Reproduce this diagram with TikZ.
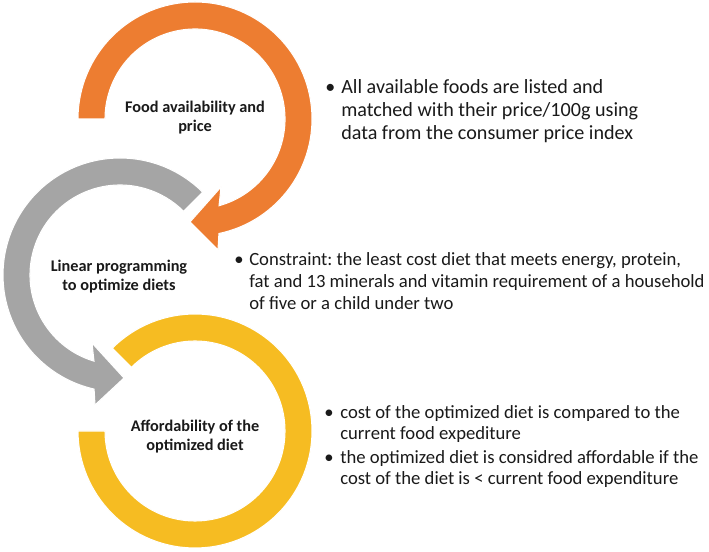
\documentclass[tikz,border=0pt]{standalone}
\usepackage{fontspec}
\setmainfont{Carlito}
\frenchspacing
\definecolor{ringorange}{HTML}{ED7D31}
\definecolor{ringgray}{HTML}{A5A5A5}
\definecolor{ringyellow}{HTML}{F6BC22}
\definecolor{txtcol}{HTML}{1A1A1A}
\begin{document}
\begin{tikzpicture}[x=0.75pt,y=0.75pt,
  ringfill/.style={draw=white,line width=0.8pt,line join=miter},
  lbl/.style={font=\bfseries\fontsize{12.2}{14.3}\selectfont,align=center,text=txtcol,inner sep=0pt},
  bul/.style={anchor=base west,inner sep=0pt,text=txtcol},
  txt/.style={anchor=base west,inner sep=0pt,text=txtcol}]
\useasboundingbox (0,0) rectangle (709,552);
\fill[white] (0,0) rectangle (709,552);

% gray ring
\begin{scope}[shift={(120,277)}]
\fill[ringgray,ringfill] (45:117) arc[start angle=45,end angle=257.2,radius=117]
  -- (-25,-130) -- (4,-103) -- (-28,-68) -- (253.2:90)
  arc[start angle=253.2,end angle=45,radius=90] -- cycle;
\end{scope}
% yellow ring
\begin{scope}[shift={(195,121)}]
\fill[ringyellow,ringfill] (135:117) arc[start angle=135,end angle=-180,radius=117]
  -- (180:90) arc[start angle=-180,end angle=135,radius=90] -- cycle;
\end{scope}
% orange ring
\begin{scope}[shift={(195,433)}]
\fill[ringorange,ringfill] (180:117) arc[start angle=180,end angle=-78.2,radius=117]
  -- (23,-131) -- (-5,-103) -- (26,-68) -- (-74.5:90)
  arc[start angle=-74.5,end angle=180,radius=90] -- cycle;
\end{scope}

\node[lbl] (food) at (195,434) {Food availability and\\price};
\node[lbl] (linear) at (119,275) {Linear programming\\to optimize diets};
\node[lbl] (afford) at (195,115) {Affordability of the\\optimized diet};

% bullet texts
\node[bul,font=\fontsize{15}{17.4}\selectfont] (b1) at (325,458.7) {•};
\node[txt] (t1) at (341,458.7) {\parbox[t]{360pt}{\fontsize{15.1}{17.4}\selectfont All available foods are listed and\\matched with their price/100g using\\data from the consumer price index}};

\node[bul,font=\fontsize{14}{16.5}\selectfont] (b2) at (234,286.3) {•};
\node[txt] (t2) at (249,286.3) {\parbox[t]{400pt}{\fontsize{14}{16.5}\selectfont Constraint: the least cost diet that meets energy, protein,\\fat and 13 minerals and vitamin requirement of a household\\of five or a child under two}};

\node[bul,font=\fontsize{14}{15.75}\selectfont] (b3) at (324,133.7) {•};
\node[txt] (t3) at (340,133.7) {\parbox[t]{360pt}{\fontsize{14}{15.75}\selectfont cost of the optimized diet is compared to the\\current food expediture}};

\node[bul,font=\fontsize{14}{15.75}\selectfont] (b4) at (324,88.7) {•};
\node[txt] (t4) at (340,88.7) {\parbox[t]{360pt}{\fontsize{14}{15.75}\selectfont the optimized diet is considred affordable if the\\cost of the diet is < current food expenditure}};
\end{tikzpicture}
\end{document}
